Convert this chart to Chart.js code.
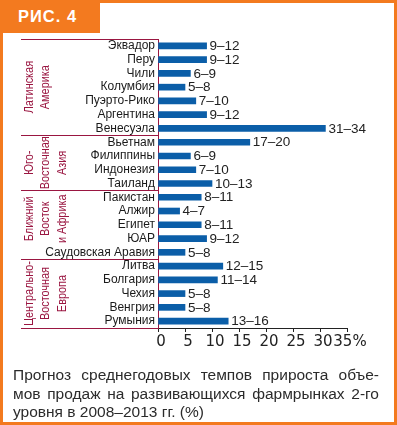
<!DOCTYPE html>
<html lang="ru">
<head>
<meta charset="utf-8">
<script src="https://cdn.jsdelivr.net/npm/chart.js@4"></script>
<style>
  html, body { margin: 0; padding: 0; background: #fff; }
  body { width: 397px; height: 425px; position: relative; overflow: hidden; font-family: "Liberation Sans", Arial, sans-serif; }
  .frame-top { position: absolute; left: 0; top: 0; width: 397px; height: 3px; background: #f37a1f; }
  .frame-left { position: absolute; left: 0; top: 0; width: 3px; height: 425px; background: #f37a1f; }
  .frame-right { position: absolute; right: 0; top: 0; width: 3px; height: 425px; background: #f37a1f; }
  .frame-bottom { position: absolute; left: 0; bottom: 0; width: 397px; height: 3px; background: #f37a1f; }
  .tab { position: absolute; left: 0; top: 0; width: 100px; height: 33px; background: #f37a1f; }
  .tab span { position: absolute; left: 18px; top: 7px; color: #fff; font-weight: bold; font-size: 16.5px; letter-spacing: 1px; }
  .caption { position: absolute; left: 13px; top: 366px; width: 366px; color: #2b2b2b; font-size: 15.5px; line-height: 18.5px; }
  .caption div { text-align: justify; text-align-last: justify; white-space: nowrap; }
  .caption div.last { text-align-last: left; }
  #grafico { position: absolute; left: 0; top: 0; }
</style>
</head>
<body>
<div class="frame-top"></div>
<div class="frame-left"></div>
<div class="frame-right"></div>
<div class="frame-bottom"></div>
<div class="tab"><span>РИС. 4</span></div>
<canvas id="grafico" width="397" height="425"></canvas>
<div class="caption">
  <div>Прогноз среднегодовых темпов прироста объе-</div>
  <div>мов продаж на развивающихся фармрынках 2-го</div>
  <div class="last">уровня в 2008–2013 гг. (%)</div>
</div>
<script>
const paises = [
  "Эквадор", "Перу", "Чили", "Колумбия", "Пуэрто-Рико", "Аргентина", "Венесуэла",
  "Вьетнам", "Филиппины", "Индонезия", "Таиланд",
  "Пакистан", "Алжир", "Египет", "ЮАР", "Саудовская Аравия",
  "Литва", "Болгария", "Чехия", "Венгрия", "Румыния",
];
const minimos = [9, 9, 6, 5, 7, 9, 31, 17, 6, 7, 10, 8, 4, 8, 9, 5, 12, 11, 5, 5, 13];
const maximos = [12, 12, 9, 8, 10, 12, 34, 20, 9, 10, 13, 11, 7, 11, 12, 8, 15, 14, 8, 8, 16];
const grupos = [
  ["Латинская", "Америка"],
  ["Юго-", "Восточная", "Азия"],
  ["Ближний", "Восток", "и Африка"],
  ["Центрально-", "Восточная", "Европа"],
];
const tamanhosGrupos = [7, 4, 5, 5];
const ticksX = [0, 5, 10, 15, 20, 25, 30, 35];

const corBarra = "#0b5ea8";
const corLinha = "#9a1641";

// rótulos "mín–máx" no fim das barras
const rotulosValores = {
  id: "rotulosValores",
  afterDatasetsDraw(chart) {
    const ctx = chart.ctx;
    const meta = chart.getDatasetMeta(0);
    ctx.save();
    ctx.font = "13.5px 'Liberation Sans', Arial, sans-serif";
    ctx.fillStyle = "#222";
    ctx.textAlign = "left";
    ctx.textBaseline = "middle";
    meta.data.forEach((barra, i) => {
      ctx.fillText(`${minimos[i]}–${maximos[i]}`, barra.x + 3, barra.y + 0.5);
    });
    ctx.restore();
  },
};

// linhas separadoras e nomes das regiões
const regioes = {
  id: "regioes",
  afterDraw(chart) {
    const ctx = chart.ctx;
    const area = chart.chartArea;
    const y = chart.scales.y;
    const xInicio = 21;

    ctx.save();
    ctx.strokeStyle = corLinha;
    ctx.lineWidth = 1;

    const limites = [area.top];
    let indice = 0;
    tamanhosGrupos.forEach((tam, g) => {
      indice += tam;
      if (g < tamanhosGrupos.length - 1) {
        limites.push((y.getPixelForValue(indice - 1) + y.getPixelForValue(indice)) / 2);
      }
    });
    limites.push(area.bottom);

    limites.forEach((ly) => {
      const yy = Math.round(ly) + 0.5;
      ctx.beginPath();
      ctx.moveTo(xInicio, yy);
      ctx.lineTo(area.left, yy);
      ctx.stroke();
    });

    ctx.fillStyle = corLinha;
    ctx.font = "12.5px 'Liberation Sans', Arial, sans-serif";
    ctx.textAlign = "center";
    ctx.textBaseline = "middle";
    let inicio = 0;
    grupos.forEach((linhas, g) => {
      const primeiro = y.getPixelForValue(inicio);
      const ultimo = y.getPixelForValue(inicio + tamanhosGrupos[g] - 1);
      let centro = (primeiro + ultimo) / 2;
      if (g === 2) centro -= 6;
      linhas.forEach((texto, l) => {
        ctx.save();
        ctx.translate(29.5 + l * 16.5, centro);
        ctx.rotate(-Math.PI / 2);
        ctx.scale(0.87, 1);
        ctx.fillText(texto, 0, 0);
        ctx.restore();
      });
      inicio += tamanhosGrupos[g];
    });
    ctx.restore();
  },
};

function criarGrafico() {
  const ctx = document.getElementById("grafico");

  new Chart(ctx, {
    type: "bar",
    data: {
      labels: paises,
      datasets: [
        {
          data: minimos,
          backgroundColor: corBarra,
          borderWidth: 0,
          barThickness: 6,
        },
      ],
    },
    options: {
      indexAxis: "y",
      responsive: false,
      animation: false,
      layout: {
        padding: { top: 39, right: 50, bottom: 0, left: 0 },
      },
      plugins: {
        legend: { display: false },
        tooltip: { enabled: false },
      },
      scales: {
        x: {
          min: 0,
          max: 35,
          afterFit: (escala) => {
            escala.height = 97;
          },
          afterBuildTicks: (escala) => {
            escala.ticks = ticksX.map((v) => ({ value: v }));
          },
          ticks: {
            color: "#222",
            padding: 1,
            labelOffset: 3,
            maxRotation: 0,
            autoSkip: false,
            font: { family: "'DejaVu Sans', sans-serif", size: 15 },
            callback: (valor) => (valor === 35 ? "35%" : valor),
          },
          grid: {
            drawOnChartArea: false,
            drawTicks: true,
            tickLength: 4,
            color: "#222",
          },
          border: { color: "#222", width: 1 },
        },
        y: {
          afterFit: (escala) => {
            escala.width = 158;
          },
          ticks: {
            color: "#1a1a1a",
            padding: 3,
            autoSkip: false,
            font: { family: "'Liberation Sans', Arial, sans-serif", size: 12 },
          },
          grid: {
            drawOnChartArea: false,
            drawTicks: false,
          },
          border: { color: corLinha, width: 1 },
        },
      },
    },
    plugins: [rotulosValores, regioes],
  });
}

document.addEventListener("DOMContentLoaded", criarGrafico);
</script>
</body>
</html>
